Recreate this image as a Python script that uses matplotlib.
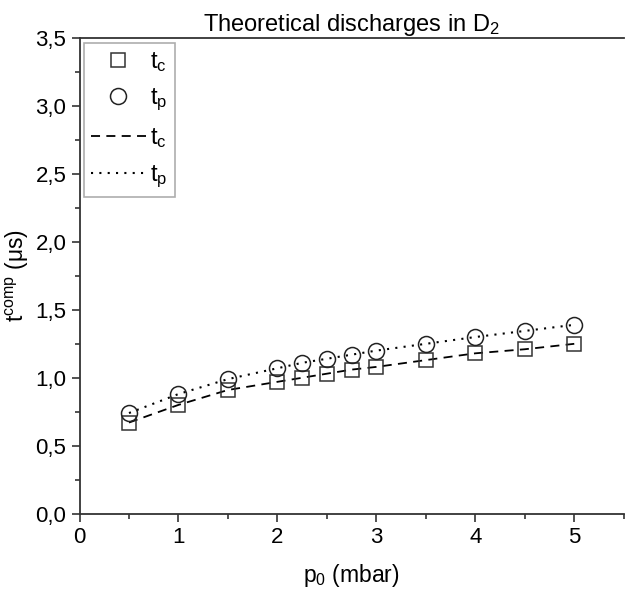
import matplotlib
matplotlib.use("Agg")
import matplotlib.pyplot as plt
from matplotlib.ticker import MultipleLocator, FuncFormatter
from matplotlib.lines import Line2D

plt.rcParams['font.family'] = ['Liberation Sans', 'DejaVu Sans']
plt.rcParams['mathtext.fontset'] = 'custom'
plt.rcParams['mathtext.rm'] = 'Liberation Sans'
plt.rcParams['mathtext.it'] = 'Liberation Sans'

p0 = [0.5, 1.0, 1.5, 2.0, 2.25, 2.5, 2.75, 3.0, 3.5, 4.0, 4.5, 5.0]
t_c = [0.67, 0.80, 0.91, 0.97, 1.00, 1.03, 1.06, 1.08, 1.13, 1.18, 1.21, 1.25]
t_p = [0.74, 0.88, 0.99, 1.07, 1.11, 1.14, 1.17, 1.20, 1.25, 1.30, 1.345, 1.39]

fig = plt.figure(figsize=(6.27, 5.91), dpi=100)
ax = fig.add_axes([0.1268, 0.1311, 0.868, 0.804])

ax.plot(p0, t_c, linestyle=(0, (5, 3.5)), color='black', lw=1.3)
ax.plot(p0, t_p, linestyle=(0, (1, 3)), color='black', lw=1.5)
ax.plot(p0, t_c, 's', ms=10, mfc='none', mec='#333333', mew=1.1)
ax.plot(p0, t_p, 'o', ms=11.5, mfc='none', mec='#222222', mew=1.1)

ax.set_xlim(0, 5.5)
ax.set_ylim(0, 3.5)
ax.xaxis.set_major_locator(MultipleLocator(1))
ax.xaxis.set_minor_locator(MultipleLocator(0.5))
ax.yaxis.set_major_locator(MultipleLocator(0.5))
ax.yaxis.set_minor_locator(MultipleLocator(0.25))
ax.yaxis.set_major_formatter(FuncFormatter(lambda v, pos: f"{v:.1f}".replace('.', ',')))
ax.tick_params(which='major', direction='out', length=6, width=1.2, labelsize=16, colors='#333333', labelcolor='black')
ax.tick_params(which='minor', direction='out', length=3.5, width=1.2, colors='#333333')
for s in ['left', 'bottom', 'top']:
    ax.spines[s].set_linewidth(1.3)
    ax.spines[s].set_color('#333333')
ax.spines['right'].set_visible(False)

ax.set_title(r'Theoretical discharges in D$\mathregular{_2}$', fontsize=17, pad=5)
ax.set_xlabel(r'p$\mathregular{_0}$ (mbar)', fontsize=16.5, labelpad=10)
ax.set_ylabel(r't$\mathregular{^{comp}}$ (μs)', fontsize=16.5, labelpad=3)

handles = [
    Line2D([], [], ls='none', marker='s', ms=10, mfc='none', mec='#333333', mew=1.1),
    Line2D([], [], ls='none', marker='o', ms=11.5, mfc='none', mec='#222222', mew=1.1),
    Line2D([], [], ls=(0, (5, 3.5)), color='black', lw=1.3),
    Line2D([], [], ls=(0, (1, 3)), color='black', lw=1.5),
]
labels = [r't$\mathregular{_c}$', r't$\mathregular{_p}$', r't$\mathregular{_c}$', r't$\mathregular{_p}$']
leg = ax.legend(handles, labels, loc='upper left', fontsize=17, frameon=True, fancybox=False,
                edgecolor='#999999', handlelength=2.3, handletextpad=0.2, borderpad=0.3,
                labelspacing=0.55, borderaxespad=0.2)
leg.get_frame().set_linewidth(1.2)

fig.savefig('out.png', dpi=100)
